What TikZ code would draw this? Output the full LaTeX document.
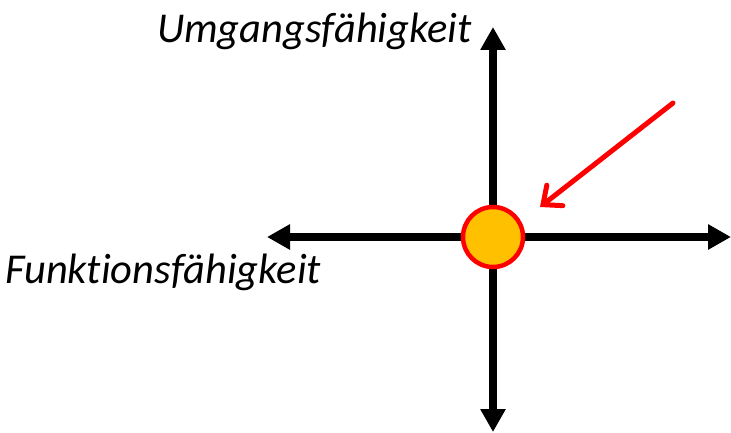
\documentclass[tikz,border=0pt]{standalone}
\usepackage{fontspec}
\setmainfont{Carlito}[Ligatures=NoCommon,RawFeature=-liga]
\usetikzlibrary{arrows.meta}
\definecolor{gold}{HTML}{FFC000}
\definecolor{pred}{HTML}{FF0000}
\tikzset{
  axis/.style={line width=8pt,-{Triangle[length=23pt,width=24pt]}},
  dot/.style={circle,draw=pred,fill=gold,line width=4.5pt,minimum size=60pt,inner sep=0pt},
  pointer/.style={draw=pred,line width=5pt,line cap=round,-{Straight Barb[length=15pt,width=26pt,line cap=round]}},
  lbl/.style={font=\fontsize{42.5}{48}\selectfont\itshape,inner sep=0pt}
}
\begin{document}
\begin{tikzpicture}[x=1pt,y=-1pt]
\useasboundingbox (0,0) rectangle (731,433);
\coordinate (o) at (493,237);
\coordinate (top) at (493,27);
\coordinate (bot) at (493,432);
\coordinate (lft) at (267,237);
\coordinate (rgt) at (731,237);
\draw[axis] (o) -- (top);
\draw[axis] (o) -- (bot);
\draw[axis] (o) -- (lft);
\draw[axis] (o) -- (rgt);
\node[dot] (c) at (o) {};
\coordinate (ps) at (673,103);
\coordinate (pe) at (540,207);
\draw[pointer] (ps) -- (pe);
\node[lbl,anchor=base east] (u) at (472,43) {Umgangsfähigkeit};
\node[lbl,anchor=base west] (f) at (5,283) {Funktionsfähigkeit};
\end{tikzpicture}
\end{document}
